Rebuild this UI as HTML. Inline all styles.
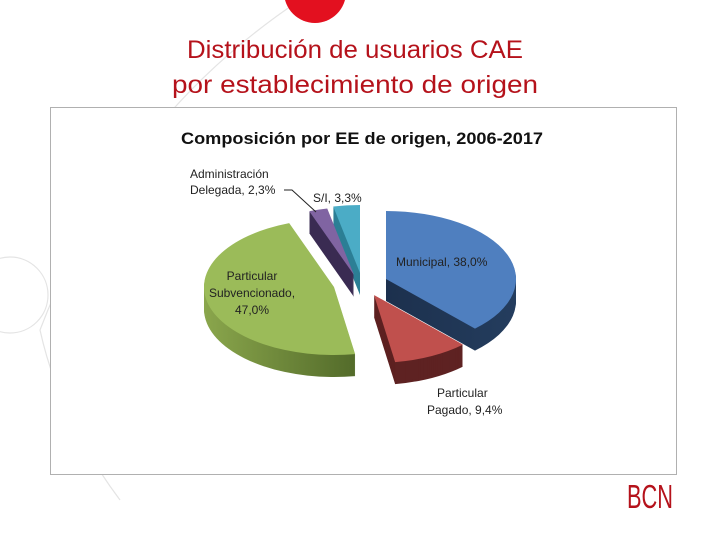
<!DOCTYPE html>
<html><head><meta charset="utf-8"><style>
html,body{margin:0;padding:0;background:#fff;}
#slide{position:relative;width:720px;height:540px;overflow:hidden;font-family:"Liberation Sans",sans-serif;}
</style></head><body>
<div id="slide">
<svg width="720" height="540" viewBox="0 0 720 540" xmlns="http://www.w3.org/2000/svg">
  <defs>
    <linearGradient id="gGreen" x1="0" x2="1" y1="0" y2="0"><stop offset="0" stop-color="#8aa64c"/><stop offset="1" stop-color="#536b2a"/></linearGradient>
    <linearGradient id="gBlue" x1="0" x2="1" y1="0" y2="0"><stop offset="0" stop-color="#1c304d"/><stop offset="1" stop-color="#243d5e"/></linearGradient>
  </defs>
  <g fill="none" stroke="#e4e4e4" stroke-width="1.2">
    <path d="M300 0 Q120 120 40 330"/>
    <circle cx="10" cy="295" r="38"/>
    <path d="M120 500 Q60 420 40 330"/>
  </g>
  <circle cx="315" cy="-8" r="31" fill="#e3101f"/>
  <text x="355" y="58" text-anchor="middle" font-size="25" fill="#b5121b" textLength="336" lengthAdjust="spacingAndGlyphs">Distribución de usuarios CAE</text>
  <text x="355" y="93" text-anchor="middle" font-size="25" fill="#b5121b" textLength="366" lengthAdjust="spacingAndGlyphs">por establecimiento de origen</text>
  <rect x="50.5" y="107.5" width="626" height="367" fill="#fff" stroke="#b0b0b0" stroke-width="1"/>
  <text x="362" y="144" text-anchor="middle" font-size="17" font-weight="bold" fill="#111" textLength="362" lengthAdjust="spacingAndGlyphs">Composición por EE de origen, 2006-2017</text>
  <g id="pie"></g>
  <g font-size="12" fill="#222">
    <text x="190" y="178">Administración</text>
    <text x="190" y="194">Delegada, 2,3%</text>
    <polyline points="284,190 292,190 316,212" fill="none" stroke="#222" stroke-width="1"/>
    <text x="313" y="202">S/I, 3,3%</text>
    <text x="396" y="266">Municipal, 38,0%</text>
    <text x="252" y="280" text-anchor="middle">Particular</text>
    <text x="252" y="297" text-anchor="middle">Subvencionado,</text>
    <text x="252" y="314" text-anchor="middle">47,0%</text>
    <text x="437" y="397">Particular</text>
    <text x="427" y="414">Pagado, 9,4%</text>
  </g>
  <text x="650" y="508" text-anchor="middle" font-size="33" fill="#b5121b" textLength="46" lengthAdjust="spacingAndGlyphs">BCN</text>
</svg>
</div>
<script>
const categories = ["Municipal", "Particular Pagado", "Particular Subvencionado", "Administración Delegada", "S/I"];
const values = [38.0, 9.4, 47.0, 2.3, 3.3];
const topColors = ["#4f7fbf", "#c0504d", "#9bbb59", "#8064a2", "#4bacc6"];
const sideColors = ["url(#gBlue)", "#5e2222", "url(#gGreen)", "#3a2b52", "#2c7f95"];
const offsets = [[20,-4],[8,12],[-32,4],[-12,-8],[-6,-10]];
const cx = 366, cy = 283, rx = 130, ry = 68, depth = 22;
const NS = "http://www.w3.org/2000/svg";
const pie = document.getElementById('pie');
const total = values.reduce((a,b)=>a+b,0);
function pt(x0,y0,a){return [x0+rx*Math.sin(a), y0-ry*Math.cos(a)];}
function slicePath(x0,y0,a0,a1){
  const p0=pt(x0,y0,a0), p1=pt(x0,y0,a1);
  const large=(a1-a0)>Math.PI?1:0;
  return `M${x0},${y0} L${p0[0]},${p0[1]} A${rx},${ry} 0 ${large} 1 ${p1[0]},${p1[1]} Z`;
}
let acc=0;
const slices=values.map((v,i)=>{const a0=acc/total*2*Math.PI; acc+=v; const a1=acc/total*2*Math.PI; return {i,a0,a1,mid:(a0+a1)/2};});
const order=slices.slice().sort((a,b)=>(-Math.cos(a.mid))-(-Math.cos(b.mid)));
order.forEach(s=>{
  const x0=cx+offsets[s.i][0], y0=cy+offsets[s.i][1];
  const g=document.createElementNS(NS,'g');
  
  
  for(let k=depth;k>=1;k--){
    const p=document.createElementNS(NS,'path');
    p.setAttribute('d',slicePath(x0,y0+k,s.a0,s.a1));
    p.setAttribute('fill',sideColors[s.i]);
    
    
    g.appendChild(p);
  }
  const t=document.createElementNS(NS,'path');
  t.setAttribute('d',slicePath(x0,y0,s.a0,s.a1));
  t.setAttribute('fill',topColors[s.i]);
  
  
  g.appendChild(t);
  pie.appendChild(g);
});
</script>
</body></html>
